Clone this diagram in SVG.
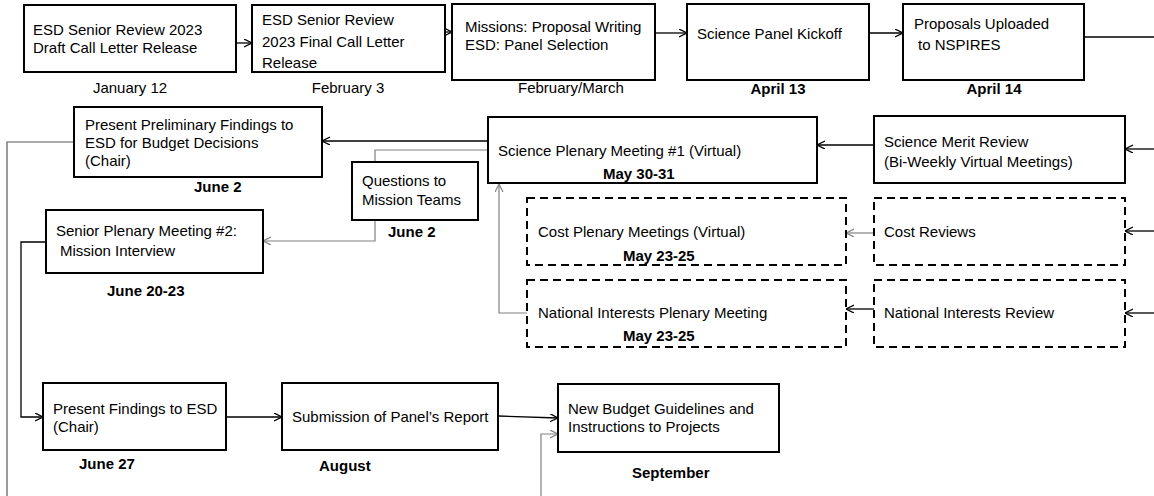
<svg xmlns="http://www.w3.org/2000/svg" width="1154" height="496" viewBox="0 0 1154 496">
<style>
text{font-family:"Liberation Sans",Arial,sans-serif;font-size:15px;fill:#000}
.b{font-weight:bold}
.m{text-anchor:middle}
.box{fill:#fff;stroke:#000;stroke-width:2}
.dash{fill:#fff;stroke:#000;stroke-width:2;stroke-dasharray:8 5}
.c{fill:none;stroke:#000;stroke-width:1.3}
.g{fill:none;stroke:#808080;stroke-width:1.2}
.d{fill:none;stroke:#595959;stroke-width:1.2}
</style>
<defs>
<marker id="ah" markerUnits="userSpaceOnUse" markerWidth="10" markerHeight="10" refX="8" refY="4" orient="auto"><path d="M0,0 L8,4 L0,8" fill="none" stroke="#000" stroke-width="1.3"/></marker>
<marker id="ahg" markerUnits="userSpaceOnUse" markerWidth="10" markerHeight="10" refX="8" refY="4" orient="auto"><path d="M0,0 L8,4 L0,8" fill="none" stroke="#808080" stroke-width="1.2"/></marker>
</defs>
<g id="connectors">
<path class="c" d="M237,43 H252" marker-end="url(#ah)"/>
<path class="c" d="M445,32 H452" marker-end="url(#ah)"/>
<path class="c" d="M655,33 H687" marker-end="url(#ah)"/>
<path class="c" d="M869,33 H903" marker-end="url(#ah)"/>
<path class="c" d="M1084,37 H1154"/>
<path class="c" d="M1154,149 H1125" marker-end="url(#ah)"/>
<path class="c" d="M874,145 H817" marker-end="url(#ah)"/>
<path class="c" d="M488,141 H322" marker-end="url(#ah)"/>
<path class="g" d="M488,150 H375 V162"/>
<path class="g" d="M375,220 V241 H263" marker-end="url(#ahg)"/>
<path class="c" d="M1154,231 H1125" marker-end="url(#ah)"/>
<path class="g" d="M874,233 H846" marker-end="url(#ahg)"/>
<path class="c" d="M1154,313 H1125" marker-end="url(#ah)"/>
<path class="c" d="M874,309 H846" marker-end="url(#ah)"/>
<path class="g" d="M527,313 H499 V184" marker-end="url(#ahg)"/>
<path class="d" d="M74,142 H7 V496"/>
<path class="c" d="M46,242 H21 V417 H43" marker-end="url(#ah)"/>
<path class="c" d="M226,417 H282" marker-end="url(#ah)"/>
<path class="c" d="M498,416 L558,418" marker-end="url(#ah)"/>
<path class="g" d="M541,496 V434 H558" marker-end="url(#ahg)"/>
</g>
<g id="n1"><rect class="box" x="24" y="5" width="212" height="67"/><text x="33" y="35">ESD Senior Review 2023</text><text x="33" y="53">Draft Call Letter Release</text><text class="m" x="130" y="93">January 12</text></g>
<g id="n2"><rect class="box" x="252" y="5" width="193" height="67"/><text x="262" y="25">ESD Senior Review</text><text x="262" y="47">2023 Final Call Letter</text><text x="262" y="68">Release</text><text class="m" x="348" y="93">February 3</text></g>
<g id="n3"><rect class="box" x="452" y="4" width="203" height="76"/><text x="465" y="32">Missions: Proposal Writing</text><text x="465" y="50">ESD: Panel Selection</text><text x="518" y="93">February/March</text></g>
<g id="n4"><rect class="box" x="687" y="4" width="182" height="76"/><text x="697" y="39">Science Panel Kickoff</text><text class="b m" x="778" y="94">April 13</text></g>
<g id="n5"><rect class="box" x="903" y="4" width="181" height="76"/><text x="914" y="29">Proposals Uploaded</text><text x="918" y="50">to NSPIRES</text><text class="b m" x="994" y="94">April 14</text></g>
<g id="n6"><rect class="box" x="74" y="107" width="248" height="70"/><text x="85" y="130">Present Preliminary Findings to</text><text x="85" y="148">ESD for Budget Decisions</text><text x="85" y="166">(Chair)</text><text class="b" x="194" y="192">June 2</text></g>
<g id="n7"><rect class="box" x="488" y="117" width="329" height="66"/><text x="498" y="156">Science Plenary Meeting #1 (Virtual)</text><text class="b" x="603" y="179">May 30-31</text></g>
<g id="n8"><rect class="box" x="874" y="116" width="251" height="67"/><text x="884" y="147">Science Merit Review</text><text x="884" y="167">(Bi-Weekly Virtual Meetings)</text></g>
<g id="n9"><rect class="box" x="352" y="162" width="126" height="58"/><text x="362" y="186">Questions to</text><text x="362" y="205">Mission Teams</text><text class="b" x="388" y="237">June 2</text></g>
<g id="n10"><rect class="box" x="46" y="210" width="217" height="63"/><text x="56" y="236">Senior Plenary Meeting #2:</text><text x="60" y="256">Mission Interview</text><text class="b" x="107" y="296">June 20-23</text></g>
<g id="n11"><rect class="dash" x="527" y="198" width="319" height="67"/><text x="538" y="237">Cost Plenary Meetings (Virtual)</text><text class="b" x="623" y="261">May 23-25</text></g>
<g id="n12"><rect class="dash" x="874" y="198" width="251" height="67"/><text x="884" y="237">Cost Reviews</text></g>
<g id="n13"><rect class="dash" x="527" y="280" width="319" height="67"/><text x="538" y="318">National Interests Plenary Meeting</text><text class="b" x="623" y="341">May 23-25</text></g>
<g id="n14"><rect class="dash" x="874" y="280" width="251" height="67"/><text x="884" y="318">National Interests Review</text></g>
<g id="n15"><rect class="box" x="43" y="383" width="183" height="67"/><text x="53" y="414">Present Findings to ESD</text><text x="53" y="432">(Chair)</text><text class="b" x="79" y="469">June 27</text></g>
<g id="n16"><rect class="box" x="282" y="383" width="216" height="67"/><text x="292" y="422">Submission of Panel’s Report</text><text class="b" x="319" y="471">August</text></g>
<g id="n17"><rect class="box" x="558" y="384" width="221" height="68"/><text x="568" y="414">New Budget Guidelines and</text><text x="568" y="432">Instructions to Projects</text><text class="b" x="632" y="478">September</text></g>
</svg>
